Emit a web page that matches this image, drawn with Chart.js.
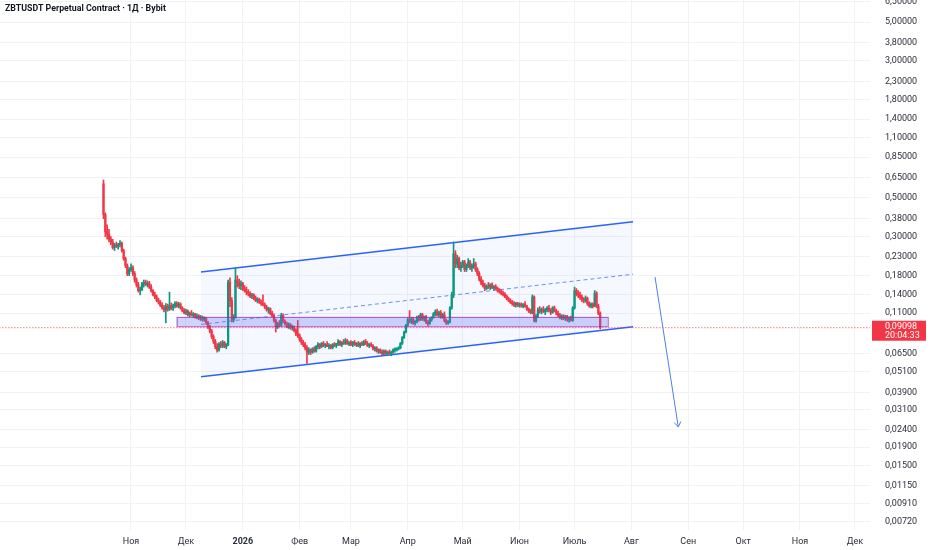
<!DOCTYPE html>
<html>
<head>
<meta charset="utf-8">
<script src="https://cdn.jsdelivr.net/npm/chart.js@4.4.1/dist/chart.umd.min.js"></script>
<style>
  html, body { margin: 0; padding: 0; background: #fff; }
</style>
</head>
<body>
<canvas id="chart" width="932" height="550"></canvas>
<script>
// daily candles, day 0 = 1 Nov 2025
const firstDay = -15;
const opens = [
  0.60,0.40,0.32,0.31,0.29,0.28,0.26,0.27,0.265,0.27,
  0.275,0.25,0.225,0.205,0.185,0.195,0.20,0.185,0.17,0.16,
  0.148,0.15,0.162,0.165,0.16,0.163,0.155,0.148,0.14,0.136,
  0.13,0.127,0.122,0.118,0.115,0.12,0.116,0.122,0.118,0.121,
  0.125,0.121,0.124,0.118,0.114,0.111,0.113,0.108,0.11,0.107,
  0.109,0.105,0.106,0.103,0.104,0.101,0.103,0.097,0.092,0.087,
  0.081,0.076,0.071,0.068,0.073,0.072,0.075,0.071,0.073,0.165,
  0.13,0.101,0.104,0.17,0.165,0.158,0.162,0.152,0.148,0.145,
  0.142,0.138,0.14,0.134,0.13,0.132,0.127,0.125,0.123,0.119,
  0.115,0.117,0.11,0.107,0.1,0.092,0.096,0.094,0.107,0.099,
  0.096,0.093,0.095,0.091,0.092,0.088,0.084,0.082,0.078,0.075,
  0.073,0.07,0.066,0.068,0.066,0.069,0.067,0.071,0.073,0.071,
  0.074,0.072,0.073,0.071,0.072,0.07,0.073,0.072,0.074,0.076,
  0.073,0.075,0.074,0.077,0.074,0.075,0.073,0.075,0.073,0.074,
  0.072,0.074,0.073,0.076,0.074,0.072,0.073,0.072,0.069,0.07,
  0.067,0.068,0.066,0.065,0.067,0.065,0.066,0.065,0.066,0.068,
  0.068,0.069,0.07,0.074,0.08,0.086,0.094,0.101,0.099,0.102,
  0.097,0.099,0.104,0.101,0.108,0.102,0.105,0.098,0.096,0.101,
  0.104,0.109,0.112,0.108,0.111,0.105,0.108,0.1,0.097,0.098,
  0.118,0.14,0.24,0.21,0.225,0.2,0.205,0.215,0.195,0.205,
  0.215,0.2,0.205,0.21,0.195,0.185,0.172,0.164,0.158,0.152,
  0.157,0.155,0.16,0.154,0.156,0.152,0.148,0.146,0.143,0.141,
  0.137,0.133,0.13,0.127,0.125,0.123,0.125,0.122,0.124,0.121,
  0.123,0.12,0.116,0.113,0.111,0.136,0.1,0.106,0.115,0.113,
  0.116,0.112,0.115,0.118,0.114,0.111,0.118,0.113,0.11,0.107,
  0.104,0.106,0.103,0.105,0.101,0.103,0.1,0.118,0.148,0.142,
  0.14,0.136,0.131,0.13,0.134,0.125,0.121,0.124,0.121,0.143,
  0.12,0.11
];
const highs = [
  0.63,0.41,0.35,0.33,0.30,0.29,0.275,0.28,0.275,0.285,
  0.28,0.255,0.23,0.21,0.20,0.21,0.205,0.19,0.175,0.165,
  0.155,0.165,0.17,0.17,0.168,0.167,0.16,0.15,0.145,0.14,
  0.134,0.13,0.126,0.122,0.125,0.124,0.145,0.126,0.124,0.128,
  0.128,0.127,0.126,0.12,0.117,0.116,0.115,0.112,0.114,0.111,
  0.11,0.109,0.108,0.107,0.106,0.105,0.104,0.099,0.094,0.089,
  0.083,0.078,0.074,0.075,0.076,0.077,0.076,0.074,0.17,0.175,
  0.135,0.108,0.2,0.18,0.172,0.168,0.165,0.158,0.155,0.15,
  0.146,0.143,0.142,0.138,0.135,0.134,0.131,0.14,0.126,0.122,
  0.119,0.118,0.113,0.109,0.102,0.098,0.1,0.11,0.109,0.101,
  0.098,0.097,0.096,0.094,0.093,0.09,0.1,0.084,0.08,0.077,
  0.075,0.072,0.07,0.069,0.07,0.071,0.072,0.075,0.074,0.075,
  0.076,0.074,0.076,0.074,0.073,0.074,0.075,0.074,0.078,0.077,
  0.076,0.078,0.079,0.078,0.076,0.077,0.076,0.077,0.075,0.076,
  0.075,0.076,0.077,0.078,0.076,0.074,0.075,0.073,0.071,0.071,
  0.069,0.069,0.068,0.068,0.068,0.067,0.068,0.067,0.069,0.07,
  0.07,0.071,0.075,0.081,0.087,0.095,0.103,0.114,0.104,0.104,
  0.1,0.106,0.107,0.11,0.11,0.106,0.107,0.1,0.103,0.105,
  0.111,0.115,0.116,0.113,0.114,0.11,0.112,0.102,0.1,0.12,
  0.145,0.28,0.25,0.235,0.23,0.215,0.22,0.22,0.21,0.225,
  0.22,0.21,0.225,0.215,0.2,0.19,0.178,0.17,0.163,0.16,
  0.165,0.162,0.164,0.158,0.16,0.155,0.152,0.15,0.147,0.144,
  0.14,0.136,0.133,0.13,0.128,0.127,0.127,0.126,0.126,0.125,
  0.128,0.122,0.118,0.116,0.14,0.138,0.108,0.118,0.12,0.118,
  0.12,0.117,0.12,0.122,0.117,0.12,0.121,0.116,0.113,0.11,
  0.108,0.108,0.107,0.107,0.105,0.106,0.12,0.155,0.152,0.148,
  0.145,0.14,0.135,0.138,0.136,0.128,0.126,0.126,0.148,0.146,
  0.124,0.112
];
const lows = [
  0.38,0.30,0.29,0.28,0.27,0.255,0.25,0.26,0.255,0.262,
  0.245,0.22,0.20,0.18,0.18,0.19,0.18,0.165,0.155,0.145,
  0.14,0.148,0.155,0.158,0.155,0.152,0.145,0.138,0.133,0.128,
  0.124,0.12,0.116,0.112,0.097,0.113,0.114,0.115,0.114,0.118,
  0.119,0.118,0.116,0.112,0.109,0.108,0.106,0.105,0.106,0.104,
  0.103,0.102,0.101,0.1,0.099,0.099,0.095,0.09,0.085,0.079,
  0.074,0.069,0.066,0.067,0.07,0.07,0.07,0.069,0.072,0.12,
  0.098,0.098,0.103,0.155,0.152,0.15,0.148,0.145,0.14,0.138,
  0.135,0.133,0.131,0.128,0.126,0.125,0.122,0.121,0.117,0.113,
  0.11,0.108,0.105,0.098,0.086,0.09,0.092,0.093,0.097,0.094,
  0.091,0.09,0.089,0.088,0.086,0.082,0.08,0.076,0.073,0.071,
  0.068,0.057,0.064,0.064,0.065,0.066,0.066,0.069,0.069,0.07,
  0.071,0.07,0.071,0.069,0.069,0.069,0.071,0.07,0.072,0.072,
  0.071,0.073,0.073,0.073,0.072,0.072,0.071,0.072,0.071,0.071,
  0.07,0.072,0.072,0.073,0.071,0.07,0.071,0.068,0.067,0.066,
  0.065,0.065,0.064,0.064,0.064,0.063,0.064,0.063,0.065,0.066,
  0.067,0.068,0.069,0.073,0.079,0.085,0.093,0.097,0.096,0.095,
  0.094,0.097,0.099,0.1,0.1,0.099,0.096,0.093,0.095,0.099,
  0.103,0.106,0.106,0.105,0.103,0.103,0.098,0.095,0.095,0.097,
  0.116,0.135,0.2,0.2,0.195,0.19,0.2,0.19,0.19,0.2,
  0.195,0.19,0.198,0.19,0.18,0.168,0.16,0.155,0.148,0.15,
  0.152,0.15,0.152,0.149,0.15,0.145,0.143,0.14,0.138,0.135,
  0.131,0.128,0.125,0.122,0.12,0.119,0.12,0.119,0.119,0.118,
  0.119,0.114,0.111,0.109,0.109,0.098,0.098,0.104,0.11,0.109,
  0.111,0.108,0.112,0.112,0.108,0.11,0.112,0.108,0.105,0.102,
  0.101,0.101,0.1,0.099,0.098,0.099,0.099,0.116,0.138,0.135,
  0.132,0.128,0.126,0.127,0.122,0.119,0.118,0.118,0.12,0.118,
  0.108,0.0895
];
const closes = [
  0.40,0.32,0.31,0.29,0.28,0.26,0.27,0.265,0.27,0.275,
  0.25,0.225,0.205,0.185,0.195,0.20,0.185,0.17,0.16,0.148,
  0.15,0.162,0.165,0.16,0.163,0.155,0.148,0.14,0.136,0.13,
  0.127,0.122,0.118,0.115,0.12,0.116,0.122,0.118,0.121,0.125,
  0.121,0.124,0.118,0.114,0.111,0.113,0.108,0.11,0.107,0.109,
  0.105,0.106,0.103,0.104,0.101,0.103,0.097,0.092,0.087,0.081,
  0.076,0.071,0.068,0.073,0.072,0.075,0.071,0.073,0.165,0.13,
  0.101,0.104,0.17,0.165,0.158,0.162,0.152,0.148,0.145,0.142,
  0.138,0.14,0.134,0.13,0.132,0.127,0.125,0.123,0.119,0.115,
  0.117,0.11,0.107,0.1,0.092,0.096,0.094,0.107,0.099,0.096,
  0.093,0.095,0.091,0.092,0.088,0.084,0.082,0.078,0.075,0.073,
  0.07,0.066,0.068,0.066,0.069,0.067,0.071,0.073,0.071,0.074,
  0.072,0.073,0.071,0.072,0.07,0.073,0.072,0.074,0.076,0.073,
  0.075,0.074,0.077,0.074,0.075,0.073,0.075,0.073,0.074,0.072,
  0.074,0.073,0.076,0.074,0.072,0.073,0.072,0.069,0.07,0.067,
  0.068,0.066,0.065,0.067,0.065,0.066,0.065,0.066,0.068,0.069,
  0.069,0.07,0.074,0.08,0.086,0.094,0.101,0.099,0.102,0.097,
  0.099,0.104,0.101,0.108,0.102,0.105,0.098,0.096,0.101,0.104,
  0.109,0.112,0.108,0.111,0.105,0.108,0.1,0.097,0.098,0.118,
  0.14,0.24,0.21,0.225,0.2,0.205,0.215,0.195,0.205,0.215,
  0.2,0.205,0.21,0.195,0.185,0.172,0.164,0.158,0.152,0.157,
  0.155,0.16,0.154,0.156,0.152,0.148,0.146,0.143,0.141,0.137,
  0.133,0.13,0.127,0.125,0.123,0.125,0.122,0.124,0.121,0.123,
  0.12,0.116,0.113,0.111,0.136,0.1,0.106,0.115,0.113,0.116,
  0.112,0.115,0.118,0.114,0.111,0.118,0.113,0.11,0.107,0.104,
  0.106,0.103,0.105,0.101,0.103,0.1,0.118,0.148,0.142,0.14,
  0.136,0.131,0.13,0.134,0.125,0.121,0.124,0.121,0.143,0.12,
  0.11,0.09098
];

const monthDays = [0, 30, 61, 92, 120, 151, 181, 212, 242, 273, 304, 334, 365, 395];
const monthLabels = ['Ноя', 'Дек', '2026', 'Фев', 'Мар', 'Апр', 'Май', 'Июн', 'Июль', 'Авг', 'Сен', 'Окт', 'Ноя', 'Дек'];
const priceTicks = [6.5, 5, 3.8, 3, 2.3, 1.8, 1.4, 1.1, 0.85, 0.65, 0.5, 0.38, 0.3, 0.23, 0.18, 0.14, 0.11,
  0.065, 0.051, 0.039, 0.031, 0.024, 0.019, 0.015, 0.0115, 0.0091, 0.0072];

// drawings (day, price)
const channelUpper = [{x: 38.2, y: 0.189}, {x: 273.9, y: 0.365}];
const channelLower = [{x: 38.2, y: 0.0478}, {x: 273.9, y: 0.0922}];
const channelMid = [{x: 38.2, y: 0.095}, {x: 273.9, y: 0.1835}];
const arrowPath = [{x: 285.9, y: 0.177}, {x: 298.6, y: 0.0248}];
const zone = {from: 24.9, to: 260.1, low: 0.0928, high: 0.1049};
const lastPrice = 0.09098;
const countdown = '20:04:33';
const title = 'ZBTUSDT Perpetual Contract · 1Д · Bybit';

const UP = '#089981', DOWN = '#f23645';
const FONT = 'Roboto';

const wickData = highs.map((h, i) => ({x: firstDay + i, y: [lows[i], h]}));
const bodyData = opens.map((o, i) => ({x: firstDay + i, y: [o, closes[i]]}));
const candleColor = ctx => closes[ctx.dataIndex] >= opens[ctx.dataIndex] ? UP : DOWN;
const fmt = v => v.toFixed(5).replace('.', ',');

const overlay = {
  id: 'overlay',
  afterDatasetsDraw(chart) {
    const {ctx, chartArea: a, scales: {x, y}} = chart;
    ctx.save();
    ctx.beginPath();
    ctx.rect(a.left, a.top, a.right - a.left, a.bottom - a.top);
    ctx.clip();
    // support zone
    const x1 = x.getPixelForValue(zone.from), x2 = x.getPixelForValue(zone.to);
    const y1 = y.getPixelForValue(zone.high), y2 = y.getPixelForValue(zone.low);
    ctx.fillStyle = 'rgba(98,110,240,0.3)';
    ctx.fillRect(x1, y1, x2 - x1, y2 - y1);
    ctx.strokeStyle = 'rgba(156,39,176,0.75)';
    ctx.lineWidth = 1;
    ctx.strokeRect(x1 + 0.5, y1 + 0.5, x2 - x1, y2 - y1);
    // arrow head
    const px0 = x.getPixelForValue(arrowPath[0].x), py0 = y.getPixelForValue(arrowPath[0].y);
    const px1 = x.getPixelForValue(arrowPath[1].x), py1 = y.getPixelForValue(arrowPath[1].y);
    const ang = Math.atan2(py1 - py0, px1 - px0);
    ctx.strokeStyle = '#4f7fe8';
    ctx.beginPath();
    ctx.moveTo(px1 - 6 * Math.cos(ang - 0.6), py1 - 6 * Math.sin(ang - 0.6));
    ctx.lineTo(px1, py1);
    ctx.lineTo(px1 - 6 * Math.cos(ang + 0.6), py1 - 6 * Math.sin(ang + 0.6));
    ctx.stroke();
    ctx.restore();
  },
  afterDraw(chart) {
    const {ctx, chartArea: a, scales: {y}} = chart;
    ctx.save();
    // last price tag on the price scale
    const py = y.getPixelForValue(lastPrice);
    ctx.fillStyle = DOWN;
    ctx.fillRect(a.right + 2, py - 7, 54, 20);
    ctx.fillStyle = '#ffffff';
    ctx.font = '9px ' + FONT;
    ctx.textBaseline = 'middle';
    ctx.textAlign = 'left';
    ctx.fillText(fmt(lastPrice), a.right + 15, py - 1);
    ctx.fillText(countdown, a.right + 15, py + 8);
    // title
    ctx.fillStyle = '#131722';
    ctx.font = 'bold 8.8px ' + FONT;
    ctx.fillText(title, 5, 9);
    ctx.restore();
  }
};

new Chart(document.getElementById('chart'), {
  type: 'bar',
  data: {
    datasets: [
      {type: 'bar', data: wickData, backgroundColor: candleColor, barThickness: 1, grouped: false, order: 2},
      {type: 'bar', data: bodyData, backgroundColor: candleColor, barThickness: 1.6, grouped: false, order: 1},
      {type: 'line', data: channelUpper, borderColor: '#2962ff', borderWidth: 1.5, pointRadius: 0,
        fill: '+1', backgroundColor: 'rgba(41,98,255,0.045)', order: 5},
      {type: 'line', data: channelLower, borderColor: '#2962ff', borderWidth: 1.5, pointRadius: 0, fill: false, order: 5},
      {type: 'line', data: channelMid, borderColor: 'rgba(41,98,255,0.7)', borderWidth: 1, borderDash: [4, 3],
        pointRadius: 0, fill: false, order: 4},
      {type: 'line', data: [{x: -80, y: lastPrice}, {x: 410, y: lastPrice}], borderColor: DOWN, borderWidth: 1,
        borderDash: [1, 2], pointRadius: 0, fill: false, order: 3},
      {type: 'line', data: arrowPath, borderColor: '#4f7fe8', borderWidth: 1, pointRadius: 0, fill: false, order: 0}
    ]
  },
  options: {
    responsive: false,
    animation: false,
    layout: {padding: 0},
    plugins: {
      legend: {display: false},
      tooltip: {enabled: false}
    },
    scales: {
      x: {
        type: 'linear',
        min: -71.47,
        max: 403.2,
        offset: false,
        grid: {color: '#f0f2f6', drawTicks: false, offset: false},
        border: {display: false},
        ticks: {
          padding: 6,
          color: '#2a2e39',
          maxRotation: 0,
          autoSkip: false,
          font: ctx => ({family: FONT, size: 9, weight: ctx.tick && ctx.tick.value === 61 ? 'bold' : 'normal'}),
          callback: value => {
            const i = monthDays.indexOf(value);
            return i >= 0 ? monthLabels[i] : '';
          }
        },
        afterBuildTicks: s => { s.ticks = monthDays.map(v => ({value: v})); },
        afterFit: s => { s.height = 20; s.paddingLeft = 0; s.paddingRight = 0; }
      },
      y: {
        type: 'logarithmic',
        position: 'right',
        min: 0.006422,
        max: 6.6726,
        grid: {color: '#f0f2f6', drawTicks: false},
        border: {display: false},
        ticks: {
          padding: 15,
          color: '#2a2e39',
          font: {family: FONT, size: 9},
          callback: value => fmt(value)
        },
        afterBuildTicks: s => { s.ticks = priceTicks.map(v => ({value: v})); },
        afterFit: s => { s.width = 62; s.paddingTop = 0; s.paddingBottom = 0; }
      }
    }
  },
  plugins: [overlay]
});
</script>
</body>
</html>
